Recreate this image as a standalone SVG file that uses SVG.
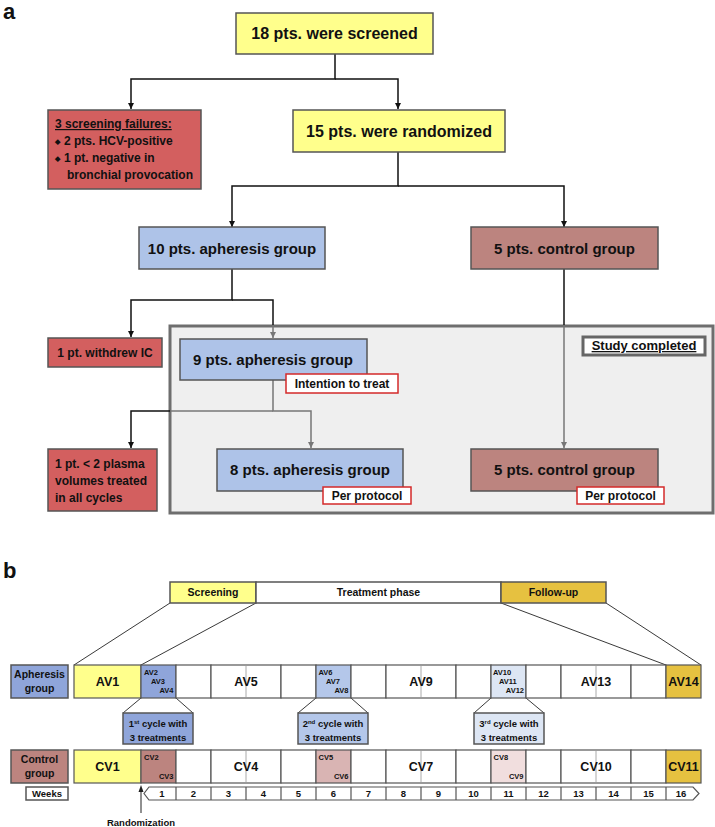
<svg xmlns="http://www.w3.org/2000/svg" width="715" height="827" viewBox="0 0 715 827">
<defs>
<style>
text{font-family:"Liberation Sans",Arial,sans-serif;font-weight:bold;fill:#111;}
.c{text-anchor:middle;}
.box{stroke:#555;stroke-width:1.5;}
.cell{fill:#fff;stroke:#555;stroke-width:1.2;}
.yel{fill:#ffff8c;}
.red{fill:#d35f5f;}
.blu{fill:#aec3e8;}
.brn{fill:#bc847f;}
.gold{fill:#e6c140;}
.b1{fill:#8fa5da;}
.b2{fill:#b4c7ea;}
.b3{fill:#dde6f4;}
.p2{fill:#d9b4b3;}
.p3{fill:#f1dede;}
.tag{fill:#fff;stroke:#d42a2a;stroke-width:1.5;}
.thin{stroke:#aaa;stroke-width:1;}
.ln{fill:none;stroke:#111;stroke-width:1.5;}
.lg{fill:none;stroke:#777;stroke-width:1.5;}
.dl{fill:none;stroke:#222;stroke-width:0.9;}
.big{font-size:16px;}
.grp{font-size:15px;}
.sm{font-size:12px;}
.tl{font-size:10.5px;}
.v{font-size:12.5px;}
.vs{font-size:7.5px;}
.wk{font-size:9.5px;}
</style>
<marker id="ah" viewBox="0 0 10 10" refX="10" refY="5" markerWidth="6" markerHeight="8" markerUnits="userSpaceOnUse" orient="auto"><path d="M0,0 L10,5 L0,10 Z" fill="#111"/></marker>
<marker id="ahg" viewBox="0 0 10 10" refX="10" refY="5" markerWidth="6" markerHeight="8" markerUnits="userSpaceOnUse" orient="auto"><path d="M0,0 L10,5 L0,10 Z" fill="#777"/></marker>
</defs>
<rect width="715" height="827" fill="#fff"/>

<text x="3" y="19" style="font-size:22px">a</text>
<text x="3" y="578" style="font-size:22px">b</text>

<g id="study-completed">
<rect x="170" y="326" width="543" height="187" fill="#efefef" stroke="#6e6e6e" stroke-width="3"/>
<rect x="583" y="337" width="122" height="18" fill="#fff" stroke="#666" stroke-width="3"/>
<text x="644" y="350" class="c" style="font-size:13px;text-decoration:underline">Study completed</text>
</g>

<g id="connectors">
<path class="ln" d="M335 54 V79 H131 V109" marker-end="url(#ah)"/>
<path class="ln" d="M335 79 H398 V109" marker-end="url(#ah)"/>
<path class="ln" d="M398 152 V186 H232 V227" marker-end="url(#ah)"/>
<path class="ln" d="M398 186 H564 V227" marker-end="url(#ah)"/>
<path class="ln" d="M232 269 V300 H131 V337" marker-end="url(#ah)"/>
<path class="ln" d="M232 300 H273 V325"/>
<path class="lg" d="M273 326 V338" marker-end="url(#ahg)"/>
<path class="ln" d="M564 269 V325"/>
<path class="lg" d="M564 326 V448" marker-end="url(#ahg)"/>
<path class="lg" d="M273 380 V411 H311 V448" marker-end="url(#ahg)"/>
<path class="lg" d="M273 411 H171"/>
<path class="ln" d="M170 411 H131 V448" marker-end="url(#ah)"/>
<path class="dl" d="M170 603 L74 665 M256 603 L141 665 M501 603 L666 665 M606 603 L701 665"/>
<path class="dl" d="M141 698 L123 713 M176 698 L193 713"/>
<path class="dl" d="M316 698 L298 713 M351 698 L368 713"/>
<path class="dl" d="M491 698 L474 713 M526 698 L544 713"/>
<path fill="none" stroke="#222" stroke-width="1" d="M141 813 V789"/>
<path d="M141 785 L138.5 792 L143.5 792 Z" fill="#222"/>
</g>

<g id="screened">
<rect class="box yel" x="236" y="13" width="197" height="41"/>
<text x="334.5" y="39" class="c big">18 pts. were screened</text>
</g>
<g id="screen-fail">
<rect class="box red" x="48" y="110" width="153" height="79"/>
<text x="55" y="128" class="sm" style="text-decoration:underline">3 screening failures:</text>
<text x="55" y="145" class="sm"><tspan font-size="7" dy="-1">◆</tspan><tspan dx="4" dy="1">2 pts. HCV-positive</tspan></text>
<text x="55" y="162" class="sm"><tspan font-size="7" dy="-1">◆</tspan><tspan dx="4" dy="1">1 pt. negative in</tspan></text>
<text x="67" y="179" class="sm">bronchial provocation</text>
</g>
<g id="randomized">
<rect class="box yel" x="293" y="110" width="212" height="42"/>
<text x="399" y="137" class="c big">15 pts. were randomized</text>
</g>
<g id="apheresis10">
<rect class="box blu" x="139" y="227" width="186" height="42"/>
<text x="232" y="253.5" class="c grp">10 pts. apheresis group</text>
</g>
<g id="control5">
<rect class="box brn" x="471" y="227" width="187" height="42"/>
<text x="564.5" y="253.5" class="c grp">5 pts. control group</text>
</g>
<g id="withdrew">
<rect class="box red" x="48" y="338" width="114" height="29"/>
<text x="105" y="356.5" class="c sm">1 pt. withdrew IC</text>
</g>
<g id="apheresis9">
<rect class="box blu" x="180" y="339" width="187" height="41"/>
<text x="273" y="365" class="c grp">9 pts. apheresis group</text>
<rect class="tag" x="286" y="374" width="112" height="19"/>
<text x="342" y="388" class="c sm">Intention to treat</text>
</g>
<g id="plasma">
<rect class="box red" x="48" y="449" width="109" height="62"/>
<text x="55" y="467.5" class="sm">1 pt. &lt; 2 plasma</text>
<text x="55" y="484.5" class="sm">volumes treated</text>
<text x="55" y="501.5" class="sm">in all cycles</text>
</g>
<g id="apheresis8">
<rect class="box blu" x="217" y="449" width="186" height="42"/>
<text x="310" y="475" class="c grp">8 pts. apheresis group</text>
<rect class="tag" x="323" y="487" width="88" height="17"/>
<text x="367" y="499.5" class="c sm">Per protocol</text>
</g>
<g id="control5b">
<rect class="box brn" x="471" y="449" width="187" height="42"/>
<text x="564.5" y="475" class="c grp">5 pts. control group</text>
<rect class="tag" x="577" y="487" width="87" height="17"/>
<text x="620.5" y="499.5" class="c sm">Per protocol</text>
</g>

<g id="phases">
<rect class="box yel" x="170" y="582" width="86" height="21" stroke-width="1.2"/>
<rect class="box" x="256" y="582" width="245" height="21" fill="#fff" stroke-width="1.2"/>
<rect class="box gold" x="501" y="582" width="105" height="21" stroke-width="1.2"/>
<text x="213" y="596" class="c tl">Screening</text>
<text x="378.5" y="596" class="c tl">Treatment phase</text>
<text x="553.5" y="596" class="c tl">Follow-up</text>
</g>

<g id="apheresis-row">
<rect class="box b1" x="11" y="665" width="57" height="33" stroke-width="1.2"/>
<text x="39.5" y="678" class="c tl">Apheresis</text>
<text x="39.5" y="692" class="c tl">group</text>
<rect class="cell yel" x="74" y="665" width="67" height="33"/>
<rect class="cell b1" x="141" y="665" width="35" height="33"/>
<rect class="cell" x="176" y="665" width="35" height="33"/>
<rect class="cell" x="211" y="665" width="70" height="33"/>
<rect class="cell" x="281" y="665" width="35" height="33"/>
<rect class="cell b2" x="316" y="665" width="35" height="33"/>
<rect class="cell" x="351" y="665" width="35" height="33"/>
<rect class="cell" x="386" y="665" width="70" height="33"/>
<rect class="cell" x="456" y="665" width="35" height="33"/>
<rect class="cell b3" x="491" y="665" width="35" height="33"/>
<rect class="cell" x="526" y="665" width="35" height="33"/>
<rect class="cell" x="561" y="665" width="70" height="33"/>
<rect class="cell" x="631" y="665" width="35" height="33"/>
<rect class="cell gold" x="666" y="665" width="35" height="33"/>
<path class="thin" d="M246 666 V697 M421 666 V697 M596 666 V697"/>
<text x="107.5" y="686" class="c v">AV1</text>
<text x="144" y="675" class="vs">AV2</text>
<text x="151" y="684" class="vs">AV3</text>
<text x="173.5" y="693" class="vs" text-anchor="end">AV4</text>
<text x="246" y="686" class="c v">AV5</text>
<text x="318.5" y="675" class="vs">AV6</text>
<text x="326" y="684" class="vs">AV7</text>
<text x="348.5" y="693" class="vs" text-anchor="end">AV8</text>
<text x="421" y="686" class="c v">AV9</text>
<text x="493" y="675" class="vs">AV10</text>
<text x="499" y="684" class="vs">AV11</text>
<text x="524" y="693" class="vs" text-anchor="end">AV12</text>
<text x="596" y="686" class="c v">AV13</text>
<text x="683.5" y="686" class="c v">AV14</text>
</g>

<g id="cycle1">
<rect class="box b1" x="123" y="713" width="70" height="31" stroke-width="1.2"/>
<text x="158" y="727" class="c" style="font-size:9.5px">1<tspan font-size="6" dy="-3.5">st</tspan><tspan dy="3.5"> cycle with</tspan></text>
<text x="158" y="741" class="c" style="font-size:9.5px">3 treatments</text>
</g>
<g id="cycle2">
<rect class="box b2" x="298" y="713" width="70" height="31" stroke-width="1.2"/>
<text x="333" y="727" class="c" style="font-size:9.5px">2<tspan font-size="6" dy="-3.5">nd</tspan><tspan dy="3.5"> cycle with</tspan></text>
<text x="333" y="741" class="c" style="font-size:9.5px">3 treatments</text>
</g>
<g id="cycle3">
<rect class="box b3" x="474" y="713" width="70" height="31" stroke-width="1.2"/>
<text x="509" y="727" class="c" style="font-size:9.5px">3<tspan font-size="6" dy="-3.5">rd</tspan><tspan dy="3.5"> cycle with</tspan></text>
<text x="509" y="741" class="c" style="font-size:9.5px">3 treatments</text>
</g>

<g id="control-row">
<rect class="box brn" x="11" y="750" width="57" height="33" stroke-width="1.2"/>
<text x="39.5" y="763" class="c tl">Control</text>
<text x="39.5" y="777" class="c tl">group</text>
<rect class="cell yel" x="74" y="750" width="67" height="33"/>
<rect class="cell brn" x="141" y="750" width="35" height="33"/>
<rect class="cell" x="176" y="750" width="35" height="33"/>
<rect class="cell" x="211" y="750" width="70" height="33"/>
<rect class="cell" x="281" y="750" width="35" height="33"/>
<rect class="cell p2" x="316" y="750" width="35" height="33"/>
<rect class="cell" x="351" y="750" width="35" height="33"/>
<rect class="cell" x="386" y="750" width="70" height="33"/>
<rect class="cell" x="456" y="750" width="35" height="33"/>
<rect class="cell p3" x="491" y="750" width="35" height="33"/>
<rect class="cell" x="526" y="750" width="35" height="33"/>
<rect class="cell" x="561" y="750" width="70" height="33"/>
<rect class="cell" x="631" y="750" width="35" height="33"/>
<rect class="cell gold" x="666" y="750" width="35" height="33"/>
<path class="thin" d="M246 751 V782 M421 751 V782 M596 751 V782"/>
<text x="107.5" y="771" class="c v">CV1</text>
<text x="144" y="760" class="vs">CV2</text>
<text x="173.5" y="779" class="vs" text-anchor="end">CV3</text>
<text x="246" y="771" class="c v">CV4</text>
<text x="318.5" y="760" class="vs">CV5</text>
<text x="348.5" y="779" class="vs" text-anchor="end">CV6</text>
<text x="421" y="771" class="c v">CV7</text>
<text x="493.5" y="760" class="vs">CV8</text>
<text x="523.5" y="779" class="vs" text-anchor="end">CV9</text>
<text x="596" y="771" class="c v">CV10</text>
<text x="683.5" y="771" class="c v">CV11</text>
</g>

<g id="weeks">
<rect class="box" x="26" y="787" width="42" height="13" fill="#fff" stroke-width="1.2"/>
<text x="47" y="797" class="c" style="font-size:9.5px">Weeks</text>
<path d="M149 787 H693 L699 793.5 L693 800 H149 L144 793.5 Z" fill="#fff" stroke="#555" stroke-width="1.2"/>
<path stroke="#555" stroke-width="1.2" d="M176 787 V800 M211 787 V800 M246 787 V800 M281 787 V800 M316 787 V800 M351 787 V800 M386 787 V800 M421 787 V800 M456 787 V800 M491 787 V800 M526 787 V800 M561 787 V800 M596 787 V800 M631 787 V800 M666 787 V800"/>
<text x="162" y="797" class="c wk">1</text>
<text x="193.5" y="797" class="c wk">2</text>
<text x="228.5" y="797" class="c wk">3</text>
<text x="263.5" y="797" class="c wk">4</text>
<text x="298.5" y="797" class="c wk">5</text>
<text x="333.5" y="797" class="c wk">6</text>
<text x="368.5" y="797" class="c wk">7</text>
<text x="403.5" y="797" class="c wk">8</text>
<text x="438.5" y="797" class="c wk">9</text>
<text x="473.5" y="797" class="c wk">10</text>
<text x="508.5" y="797" class="c wk">11</text>
<text x="543.5" y="797" class="c wk">12</text>
<text x="578.5" y="797" class="c wk">13</text>
<text x="613.5" y="797" class="c wk">14</text>
<text x="648.5" y="797" class="c wk">15</text>
<text x="681" y="797" class="c wk">16</text>
</g>
<g id="randomization">
<text x="141" y="825.5" class="c" style="font-size:9.5px">Randomization</text>
</g>
</svg>
